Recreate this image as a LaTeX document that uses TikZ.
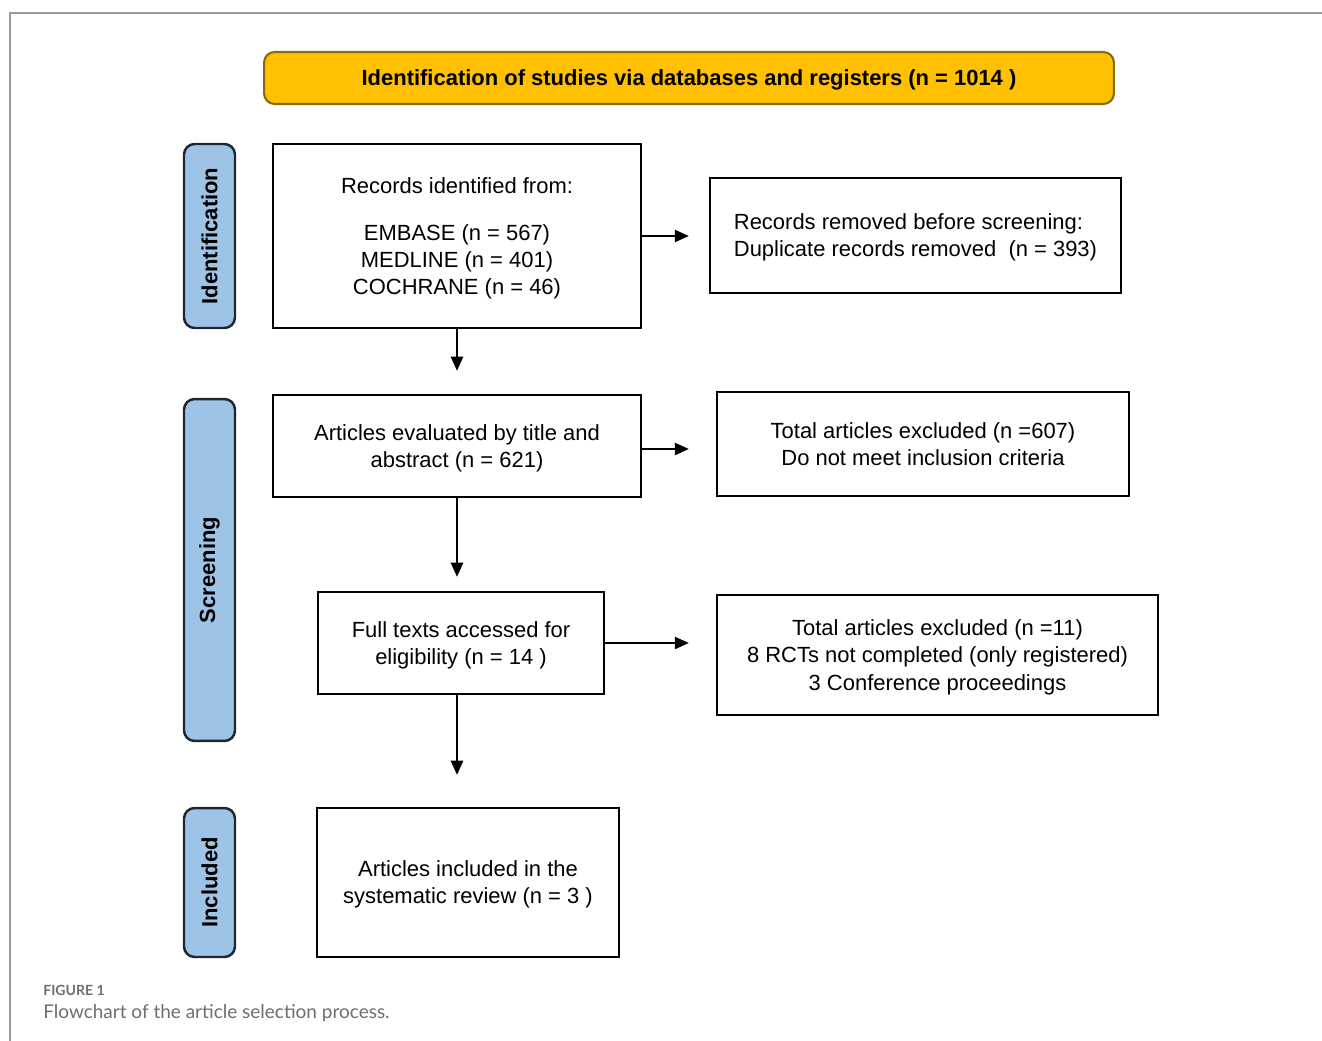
\documentclass[tikz,border=0pt]{standalone}
\usepackage{fontspec}
\setmainfont{Liberation Sans}
\newfontfamily\capfont{Lato}
\usetikzlibrary{arrows.meta}
\definecolor{bannerfill}{HTML}{FFC000}
\definecolor{bannerdraw}{HTML}{8A6A10}
\definecolor{sidefill}{HTML}{9DC3E6}
\definecolor{sidedraw}{HTML}{1E2630}
\definecolor{framegray}{HTML}{9A9A9A}
\definecolor{capgray}{HTML}{6E6E6E}
\tikzset{
  box/.style={draw=black, line width=1.4pt, fill=white, align=center,
    inner sep=0pt, text depth=0pt, font=\fontsize{12.5pt}{15.4pt}\selectfont},
  sidebox/.style={draw=sidedraw, fill=sidefill, line width=1.4pt, rounded corners=6pt,
    rotate=90, inner sep=0pt, minimum height=1.02cm,
    font=\fontsize{12.5pt}{15.4pt}\selectfont\bfseries},
  banner/.style={draw=bannerdraw, fill=bannerfill, line width=1.2pt, rounded corners=6pt,
    inner sep=0pt, text depth=0pt, minimum width=17cm, minimum height=1.04cm,
    font=\fontsize{12.5pt}{15.4pt}\selectfont\bfseries},
  arr/.style={line width=0.95pt, -{Triangle[length=8pt,width=7pt]}},
}
\begin{document}
\begin{tikzpicture}[x=0.02cm, y=-0.02cm]
\useasboundingbox (0,0) rectangle (1322,1041);
% frame
\draw[framegray, line width=0.9pt] (10,1041) -- (10,13) -- (1322,13);

\node[banner] (ban) at (689,78) {Identification of studies via databases and registers (n = 1014 )};

\node[sidebox, minimum width=3.68cm] (sid) at (209.5,236) {Identification};
\node[sidebox, minimum width=6.84cm] (sscr) at (209.5,570) {Screening};
\node[sidebox, minimum width=2.98cm] (sinc) at (209.5,882.5) {Included};

\node[box, minimum width=7.36cm, minimum height=3.68cm] (b1) at (457,236)
  {Records identified from:\\[11pt]EMBASE (n = 567)\\MEDLINE (n = 401)\\COCHRANE (n = 46)};
\node[box, minimum width=8.22cm, minimum height=2.30cm, align=left] (b2) at (915.5,235.5)
  {Records removed before screening:\\Duplicate records removed\ \ (n = 393)};
\node[box, minimum width=7.36cm, minimum height=2.04cm] (b3) at (457,446)
  {Articles evaluated by title and\\abstract (n = 621)};
\node[box, minimum width=8.24cm, minimum height=2.08cm] (b4) at (923,444)
  {Total articles excluded (n =607)\\Do not meet inclusion criteria};
\node[box, minimum width=5.72cm, minimum height=2.04cm] (b5) at (461,643)
  {Full texts accessed for\\eligibility (n = 14 )};
\node[box, minimum width=8.82cm, minimum height=2.40cm] (b6) at (937.5,655)
  {Total articles excluded (n =11)\\8 RCTs not completed (only registered)\\3 Conference proceedings};
\node[box, minimum width=6.04cm, minimum height=2.98cm] (b7) at (468,882.5)
  {Articles included in the\\systematic review (n = 3 )};

\draw[arr, shorten >=0.4cm] (b1.east) -- (b1.east -| b2.west);
\draw[arr, shorten >=0.46cm] (b1.south) -- (b3.north);
\draw[arr, shorten >=0.54cm] ([yshift=-0.06cm]b3.east) -- ([yshift=-0.06cm]b3.east -| b4.west);
\draw[arr, shorten >=0.28cm] (b3.south) -- (b3.south |- b5.north);
\draw[arr, shorten >=0.54cm] (b5.east) -- (b5.east -| b6.west);
\draw[arr, shorten >=0.64cm] (b3.south |- b5.south) -- (b3.south |- b7.north);

\node[anchor=west, inner sep=0pt, text=capgray, font=\capfont\bfseries\fontsize{8pt}{9pt}\selectfont] (capa) at (43,990) {FIGURE 1};
\node[anchor=west, inner sep=0pt, text=capgray, font=\capfont\fontsize{10.8pt}{12pt}\selectfont] (capb) at (43,1013) {Flowchart of the article selection process.};
\end{tikzpicture}
\end{document}
